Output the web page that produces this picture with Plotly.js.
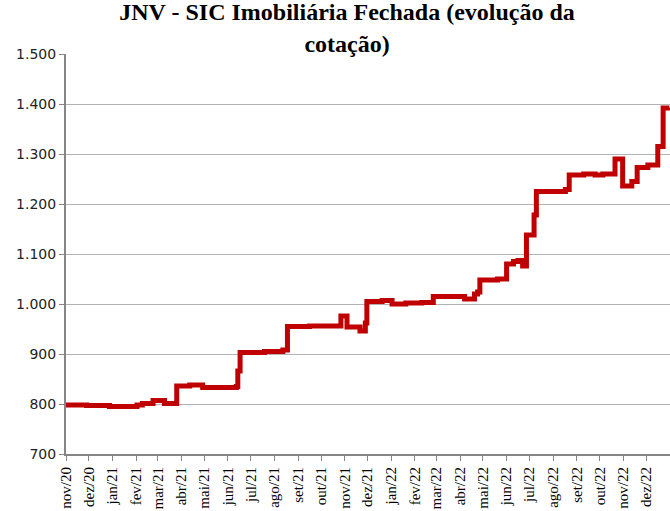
<!DOCTYPE html>
<html>
<head>
<meta charset="utf-8">
<script src="https://cdn.plot.ly/plotly-3.0.1.min.js"></script>
<style>html,body{margin:0;padding:0;background:#fff;}#chart{width:670px;height:511px;}</style>
</head>
<body>
<div id="chart"></div>
<script>
// Step dates (start of each price level) and the quote values
var dates = [
  '2020-11-01','2020-11-28','2020-12-28','2021-02-02','2021-02-09','2021-02-23','2021-03-10','2021-03-26',
  '2021-04-12','2021-04-29','2021-06-12','2021-06-14','2021-06-17','2021-07-19','2021-08-12','2021-08-18',
  '2021-09-16','2021-10-27','2021-11-04','2021-11-21','2021-11-28','2021-11-30','2021-12-20','2022-01-02',
  '2022-01-20','2022-02-10','2022-02-25','2022-04-07','2022-04-20','2022-04-24','2022-04-27','2022-05-20',
  '2022-06-01','2022-06-10','2022-06-16','2022-06-22','2022-06-27','2022-07-07','2022-07-10','2022-08-17',
  '2022-08-22','2022-09-10','2022-09-25','2022-10-05','2022-10-21','2022-10-31','2022-11-12','2022-11-19',
  '2022-12-03','2022-12-16','2022-12-23','2022-12-31'
];
var values = [
  798, 797, 795, 798, 801, 807, 801, 836,
  838, 833, 835, 866, 903, 905, 908, 955,
  956, 976, 954, 946, 962, 1005, 1007, 1000,
  1002, 1003, 1015, 1010, 1020, 1024, 1048, 1050,
  1080, 1085, 1087, 1076, 1138, 1178, 1225, 1229,
  1258, 1260, 1258, 1260, 1290, 1236, 1245, 1273,
  1278, 1315, 1392, 1393
];
var monthTicks = [
  '2020-11-01','2020-12-01','2021-01-01','2021-02-01','2021-03-01','2021-04-01','2021-05-01','2021-06-01',
  '2021-07-01','2021-08-01','2021-09-01','2021-10-01','2021-11-01','2021-12-01','2022-01-01','2022-02-01',
  '2022-03-01','2022-04-01','2022-05-01','2022-06-01','2022-07-01','2022-08-01','2022-09-01','2022-10-01',
  '2022-11-01','2022-12-01'
];
var monthLabels = [
  'nov/20','dez/20','jan/21','fev/21','mar/21','abr/21','mai/21','jun/21',
  'jul/21','ago/21','set/21','out/21','nov/21','dez/21','jan/22','fev/22',
  'mar/22','abr/22','mai/22','jun/22','jul/22','ago/22','set/22','out/22',
  'nov/22','dez/22'
];
var yTicks = [700, 800, 900, 1000, 1100, 1200, 1300, 1400, 1500];
var yLabels = ['700','800','900','1.000','1.100','1.200','1.300','1.400','1.500'];

var trace = {
  x: dates, y: values, type: 'scatter', mode: 'lines',
  line: {color: '#C00000', width: 5, shape: 'hv'},
  hoverinfo: 'skip'
};
var layout = {
  width: 670, height: 511,
  margin: {l: 66, r: 0, t: 54, b: 57},
  paper_bgcolor: '#ffffff', plot_bgcolor: '#ffffff',
  showlegend: false,
  title: {
    text: '<b>JNV - SIC Imobiliária Fechada (evolução da<br>cotação)</b>',
    font: {family: 'Liberation Serif, serif', size: 24, color: '#000000'},
    xref: 'container', x: 0.518, xanchor: 'center',
    yref: 'container', y: 0.96, yanchor: 'top'
  },
  xaxis: {
    type: 'date', range: ['2020-11-01', '2023-01-01'],
    tickmode: 'array', tickvals: monthTicks, ticktext: monthLabels,
    tickangle: -90, ticks: 'outside', ticklen: 5, tickcolor: '#868686', tickwidth: 1,
    showline: true, linecolor: '#868686', linewidth: 2,
    showgrid: false, zeroline: false,
    tickfont: {family: 'Liberation Serif, serif', size: 15, color: '#000000'}
  },
  yaxis: {
    range: [700, 1500],
    tickmode: 'array', tickvals: yTicks, ticktext: yLabels,
    ticks: 'outside', ticklen: 5, tickcolor: '#868686', tickwidth: 1,
    showline: true, linecolor: '#868686', linewidth: 2,
    showgrid: true, gridcolor: '#b3b3b3', gridwidth: 1, zeroline: false,
    tickfont: {family: 'DejaVu Sans, sans-serif', size: 14, color: '#222222'}
  }
};
Plotly.newPlot('chart', [trace], layout, {displayModeBar: false, staticPlot: true});
</script>
</body>
</html>
